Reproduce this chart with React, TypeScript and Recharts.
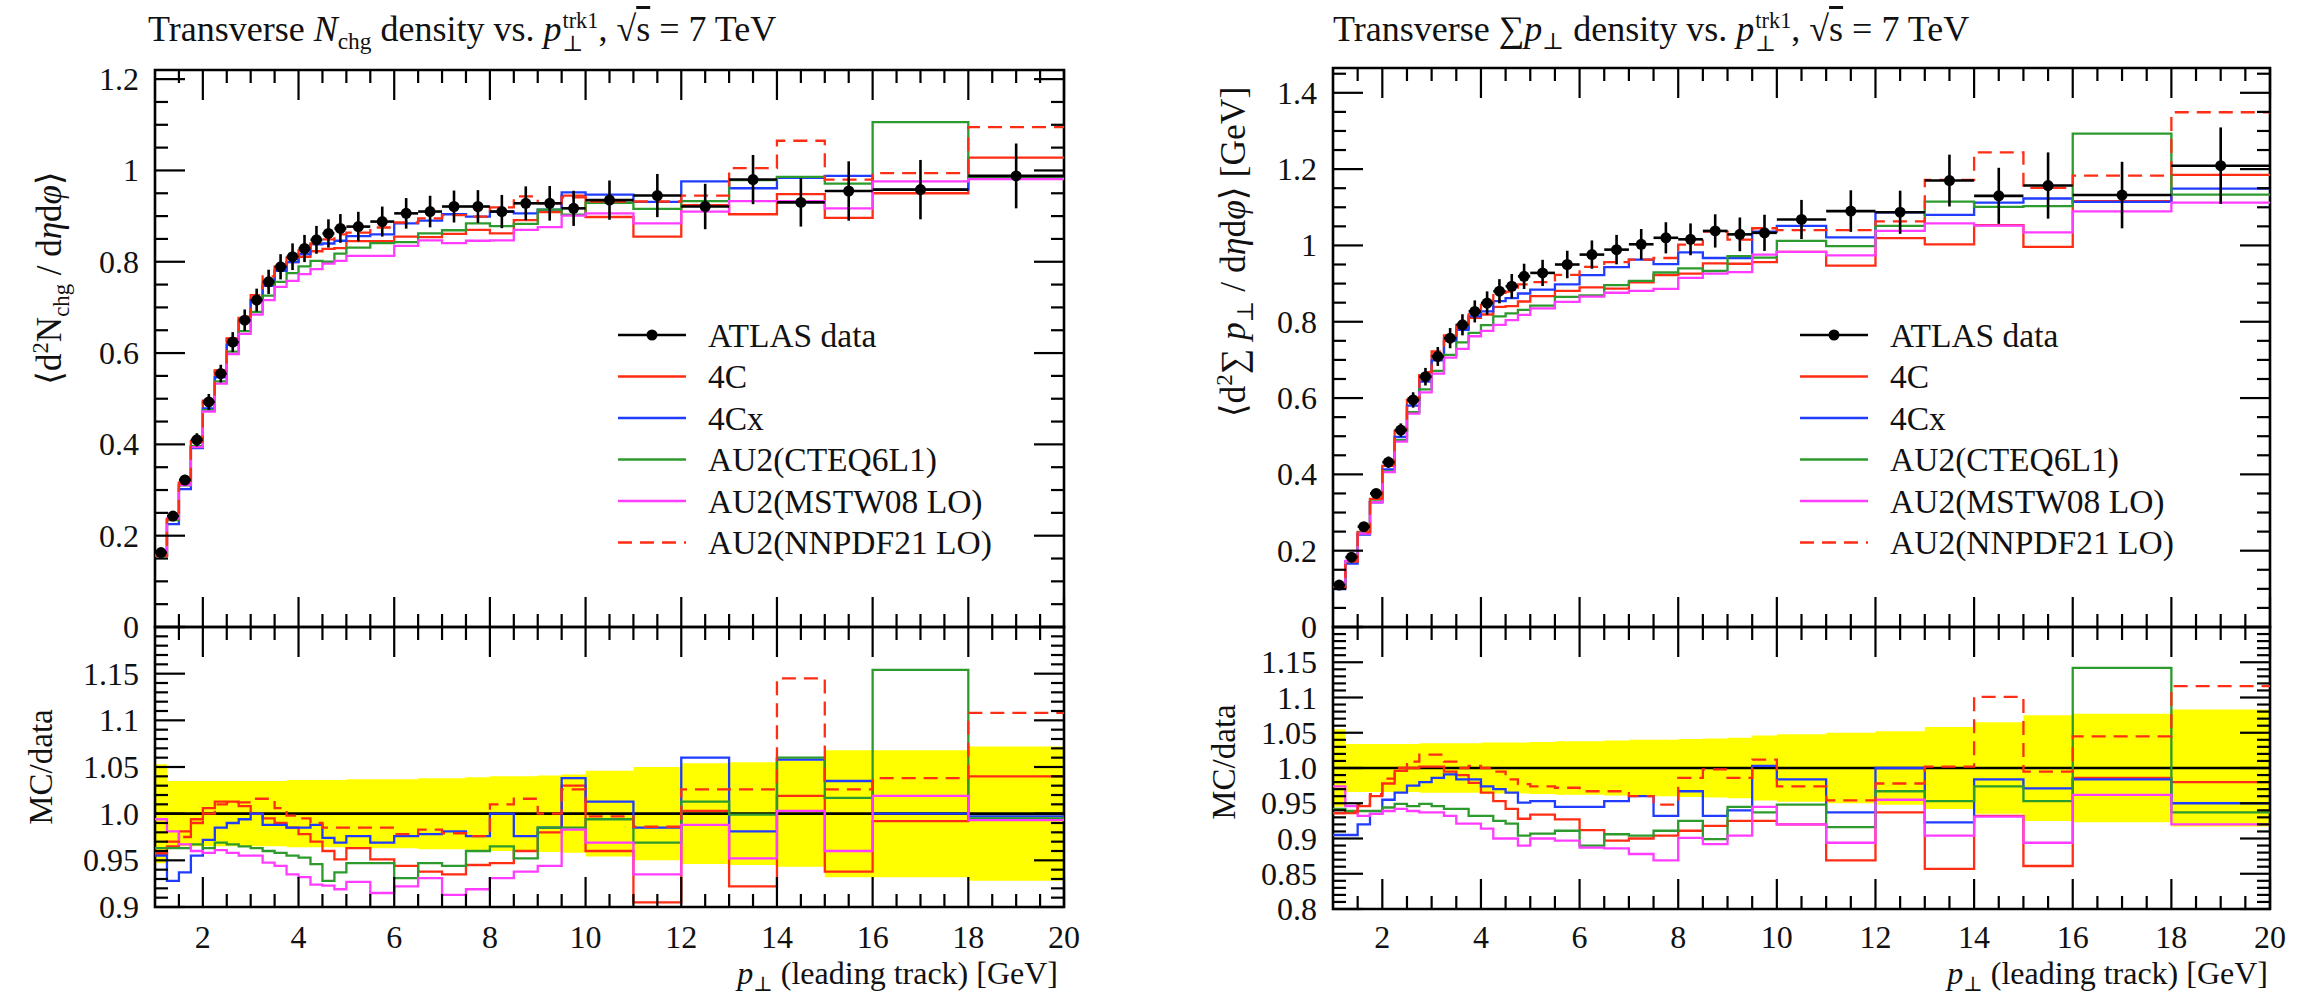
import React from 'react';
import { ComposedChart, Line, Scatter, ErrorBar, Area, XAxis, YAxis, ReferenceLine, ReferenceArea } from 'recharts';

const FONT = "'Liberation Serif', 'DejaVu Serif', serif";

// ---------- shared binning / ticks ----------
const binEdges = [1, 1.25, 1.5, 1.75, 2, 2.25, 2.5, 2.75, 3, 3.25, 3.5, 3.75, 4, 4.25, 4.5, 4.75, 5, 5.5, 6, 6.5, 7, 7.5, 8, 8.5, 9, 9.5, 10, 11, 12, 13, 14, 15, 16, 18, 20];
const xMajorTicks = [2, 4, 6, 8, 10, 12, 14, 16, 18, 20];
const xTickLabels = ['2', '4', '6', '8', '10', '12', '14', '16', '18', '20'];

const mcNames = ['4C', '4Cx', 'AU2(CTEQ6L1)', 'AU2(MSTW08 LO)', 'AU2(NNPDF21 LO)'];
const mcColors = ['#ff2d14', '#1f3cff', '#2c9a2c', '#ff3cff', '#ff2d14'];
const mcDash: (string | undefined)[] = [undefined, undefined, undefined, undefined, '14 8'];

// ---------- left: transverse N_chg density ----------
const nchgData = [0.163, 0.243, 0.322, 0.41, 0.493, 0.555, 0.624, 0.672, 0.716, 0.756, 0.789, 0.811, 0.829, 0.848, 0.862, 0.873, 0.877, 0.888, 0.906, 0.91, 0.921, 0.921, 0.91, 0.928, 0.928, 0.917, 0.935, 0.945, 0.921, 0.98, 0.93, 0.955, 0.958, 0.988];
const nchgErr = [0.0086, 0.0085, 0.0113, 0.0144, 0.0173, 0.0194, 0.0218, 0.0235, 0.0251, 0.0265, 0.0276, 0.0292, 0.0298, 0.0305, 0.031, 0.0314, 0.0324, 0.0329, 0.0335, 0.0346, 0.035, 0.0359, 0.0364, 0.0371, 0.038, 0.0385, 0.043, 0.0473, 0.0497, 0.0539, 0.053, 0.065, 0.065, 0.071];
const nchgMain4C = [0.156, 0.2345, 0.316, 0.4075, 0.496, 0.562, 0.632, 0.677, 0.716, 0.752, 0.781, 0.799, 0.811, 0.823, 0.828, 0.83, 0.845, 0.845, 0.855, 0.854, 0.861, 0.87, 0.862, 0.891, 0.909, 0.945, 0.898, 0.855, 0.924, 0.904, 0.948, 0.896, 0.95, 1.028];
const nchgMain4Cx = [0.156, 0.2255, 0.302, 0.392, 0.479, 0.547, 0.618, 0.668, 0.716, 0.747, 0.78, 0.799, 0.817, 0.838, 0.84, 0.846, 0.856, 0.86, 0.884, 0.89, 0.904, 0.899, 0.91, 0.906, 0.914, 0.952, 0.947, 0.931, 0.976, 0.961, 0.984, 0.988, 0.958, 0.985];
const nchgMainCTEQ = [0.157, 0.234, 0.31, 0.396, 0.475, 0.538, 0.603, 0.648, 0.69, 0.726, 0.756, 0.775, 0.79, 0.802, 0.8, 0.818, 0.831, 0.841, 0.843, 0.862, 0.869, 0.884, 0.878, 0.883, 0.914, 0.903, 0.929, 0.916, 0.933, 0.979, 0.986, 0.971, 1.106, 0.983];
const nchgMainMSTW = [0.162, 0.238, 0.311, 0.394, 0.472, 0.533, 0.598, 0.642, 0.684, 0.716, 0.745, 0.758, 0.773, 0.784, 0.796, 0.802, 0.813, 0.813, 0.835, 0.847, 0.841, 0.846, 0.847, 0.87, 0.876, 0.901, 0.906, 0.884, 0.91, 0.933, 0.933, 0.917, 0.976, 0.981];
const nchgMainNNPDF = [0.156, 0.236, 0.314, 0.406, 0.493, 0.561, 0.631, 0.68, 0.727, 0.768, 0.794, 0.809, 0.825, 0.84, 0.849, 0.86, 0.864, 0.875, 0.886, 0.895, 0.902, 0.899, 0.919, 0.943, 0.928, 0.941, 0.932, 0.932, 0.945, 1.005, 1.065, 0.98, 0.994, 1.095];
const nchgRatio4C = [0.956, 0.965, 0.981, 0.994, 1.006, 1.013, 1.013, 1.008, 1.0, 0.995, 0.99, 0.985, 0.978, 0.97, 0.96, 0.951, 0.963, 0.951, 0.944, 0.938, 0.935, 0.945, 0.947, 0.96, 0.98, 1.03, 0.96, 0.905, 1.003, 0.922, 1.019, 0.938, 0.992, 1.04];
const nchgRatio4Cx = [0.955, 0.928, 0.937, 0.955, 0.972, 0.985, 0.99, 0.994, 1.0, 0.988, 0.988, 0.985, 0.985, 0.988, 0.974, 0.969, 0.976, 0.969, 0.976, 0.978, 0.981, 0.976, 1.0, 0.976, 0.985, 1.038, 1.013, 0.985, 1.06, 0.981, 1.058, 1.035, 1.0, 0.997];
const nchgRatioCTEQ = [0.963, 0.963, 0.963, 0.967, 0.963, 0.969, 0.967, 0.965, 0.963, 0.96, 0.958, 0.955, 0.953, 0.946, 0.928, 0.937, 0.947, 0.947, 0.931, 0.947, 0.944, 0.96, 0.965, 0.952, 0.985, 0.985, 0.994, 0.969, 1.013, 0.999, 1.06, 1.017, 1.154, 0.995];
const nchgRatioMSTW = [0.994, 0.981, 0.967, 0.96, 0.958, 0.961, 0.958, 0.955, 0.955, 0.9475, 0.944, 0.935, 0.932, 0.924, 0.923, 0.919, 0.927, 0.915, 0.922, 0.931, 0.913, 0.919, 0.931, 0.938, 0.944, 0.983, 0.969, 0.935, 0.988, 0.952, 1.003, 0.96, 1.019, 0.993];
const nchgRatioNNPDF = [0.958, 0.97, 0.975, 0.99, 1.0, 1.01, 1.012, 1.012, 1.016, 1.016, 1.006, 0.998, 0.995, 0.99, 0.985, 0.985, 0.985, 0.985, 0.978, 0.983, 0.979, 0.976, 1.01, 1.016, 1.0, 1.026, 0.997, 0.986, 1.026, 1.026, 1.145, 1.026, 1.038, 1.108];
const nchgBand = [0.053, 0.035, 0.035, 0.035, 0.035, 0.035, 0.035, 0.035, 0.035, 0.035, 0.035, 0.036, 0.036, 0.036, 0.036, 0.036, 0.037, 0.037, 0.037, 0.038, 0.038, 0.039, 0.04, 0.04, 0.041, 0.042, 0.046, 0.05, 0.054, 0.055, 0.057, 0.068, 0.068, 0.072];
const nchgYMajor = [0, 0.2, 0.4, 0.6, 0.8, 1, 1.2];
const nchgYLabels = ['0', '0.2', '0.4', '0.6', '0.8', '1', '1.2'];
const nchgRatioMajor = [0.9, 0.95, 1.0, 1.05, 1.1, 1.15, 1.2];
const nchgRatioLabels = ['0.9', '0.95', '1.0', '1.05', '1.1', '1.15', ''];

// ---------- right: transverse sum pT density ----------
const sumptData = [0.11, 0.183, 0.263, 0.35, 0.432, 0.516, 0.595, 0.656, 0.709, 0.757, 0.792, 0.827, 0.849, 0.88, 0.893, 0.919, 0.928, 0.95, 0.976, 0.989, 1.003, 1.02, 1.016, 1.038, 1.029, 1.033, 1.068, 1.09, 1.087, 1.17, 1.13, 1.157, 1.132, 1.209];
const sumptErr = [0.006, 0.0062, 0.0089, 0.0119, 0.0147, 0.0175, 0.0202, 0.023, 0.0248, 0.0265, 0.0277, 0.0289, 0.0306, 0.0317, 0.0321, 0.0331, 0.0343, 0.0361, 0.0371, 0.0386, 0.0401, 0.0408, 0.0417, 0.0436, 0.0442, 0.0475, 0.0513, 0.0545, 0.0565, 0.0679, 0.0735, 0.0868, 0.0872, 0.1003];
const sumptMain4C = [0.103, 0.171, 0.249, 0.336, 0.4225, 0.514, 0.595, 0.657, 0.71, 0.753, 0.784, 0.81, 0.819, 0.839, 0.841, 0.853, 0.867, 0.881, 0.89, 0.887, 0.903, 0.922, 0.926, 0.953, 0.952, 0.956, 0.983, 0.947, 1.019, 1.003, 1.053, 0.996, 1.116, 1.185];
const sumptMain4Cx = [0.0996, 0.166, 0.242, 0.327, 0.413, 0.498, 0.58, 0.643, 0.699, 0.75, 0.779, 0.814, 0.827, 0.854, 0.862, 0.874, 0.884, 0.898, 0.922, 0.943, 0.963, 0.951, 0.982, 0.967, 0.967, 1.036, 1.051, 1.021, 1.087, 1.08, 1.112, 1.123, 1.114, 1.149];
const sumptMainCTEQ = [0.104, 0.172, 0.247, 0.329, 0.408, 0.49, 0.563, 0.623, 0.671, 0.713, 0.746, 0.771, 0.791, 0.814, 0.822, 0.831, 0.842, 0.865, 0.869, 0.896, 0.907, 0.929, 0.94, 0.933, 0.972, 0.968, 1.012, 0.998, 1.051, 1.115, 1.101, 1.103, 1.293, 1.133];
const sumptMainMSTW = [0.107, 0.173, 0.245, 0.327, 0.406, 0.486, 0.559, 0.615, 0.664, 0.706, 0.729, 0.762, 0.776, 0.792, 0.804, 0.818, 0.835, 0.852, 0.866, 0.876, 0.881, 0.886, 0.915, 0.926, 0.93, 0.976, 0.983, 0.974, 1.038, 1.058, 1.052, 1.034, 1.089, 1.112];
const sumptMainNNPDF = [0.103, 0.172, 0.249, 0.337, 0.4255, 0.516, 0.6, 0.668, 0.722, 0.764, 0.792, 0.829, 0.849, 0.876, 0.879, 0.898, 0.904, 0.923, 0.944, 0.956, 0.963, 0.967, 1.002, 1.036, 1.015, 1.045, 1.04, 1.04, 1.063, 1.172, 1.244, 1.151, 1.183, 1.349];
const sumptRatio4C = [0.936, 0.936, 0.946, 0.96, 0.978, 0.996, 1.0, 1.002, 1.002, 0.995, 0.99, 0.979, 0.965, 0.953, 0.942, 0.928, 0.934, 0.927, 0.912, 0.897, 0.9, 0.904, 0.911, 0.918, 0.925, 0.925, 0.92, 0.869, 0.937, 0.857, 0.932, 0.861, 0.986, 0.98];
const sumptRatio4Cx = [0.905, 0.905, 0.92, 0.935, 0.955, 0.965, 0.975, 0.98, 0.986, 0.991, 0.984, 0.984, 0.974, 0.97, 0.965, 0.951, 0.953, 0.945, 0.945, 0.953, 0.96, 0.932, 0.967, 0.932, 0.94, 1.003, 0.984, 0.937, 1.0, 0.923, 0.984, 0.971, 0.984, 0.95];
const sumptRatioCTEQ = [0.942, 0.939, 0.939, 0.939, 0.944, 0.949, 0.946, 0.949, 0.946, 0.942, 0.942, 0.932, 0.932, 0.925, 0.921, 0.904, 0.907, 0.911, 0.89, 0.906, 0.904, 0.911, 0.925, 0.899, 0.945, 0.937, 0.948, 0.916, 0.967, 0.953, 0.974, 0.953, 1.142, 0.937];
const sumptRatioMSTW = [0.974, 0.946, 0.932, 0.935, 0.939, 0.942, 0.939, 0.937, 0.937, 0.932, 0.921, 0.921, 0.914, 0.9, 0.9, 0.89, 0.9, 0.897, 0.887, 0.886, 0.878, 0.869, 0.901, 0.892, 0.904, 0.945, 0.92, 0.894, 0.955, 0.904, 0.931, 0.894, 0.962, 0.92];
const sumptRatioNNPDF = [0.936, 0.938, 0.948, 0.963, 0.985, 1.0, 1.009, 1.019, 1.019, 1.009, 1.0, 1.003, 1.0, 0.995, 0.984, 0.977, 0.974, 0.972, 0.967, 0.967, 0.96, 0.948, 0.986, 0.998, 0.986, 1.012, 0.974, 0.954, 0.978, 1.002, 1.101, 0.995, 1.045, 1.116];
const sumptBand = [0.055, 0.034, 0.034, 0.034, 0.034, 0.034, 0.034, 0.035, 0.035, 0.035, 0.035, 0.035, 0.036, 0.036, 0.036, 0.036, 0.037, 0.038, 0.038, 0.039, 0.04, 0.04, 0.041, 0.042, 0.043, 0.046, 0.048, 0.05, 0.052, 0.058, 0.065, 0.075, 0.077, 0.083];
const sumptYMajor = [0, 0.2, 0.4, 0.6, 0.8, 1, 1.2, 1.4];
const sumptYLabels = ['0', '0.2', '0.4', '0.6', '0.8', '1', '1.2', '1.4'];
const sumptRatioMajor = [0.8, 0.85, 0.9, 0.95, 1.0, 1.05, 1.1, 1.15, 1.2];
const sumptRatioLabels = ['0.8', '0.85', '0.9', '0.95', '1.0', '1.05', '1.1', '1.15', ''];

// ---------- helpers ----------
function steps(a: number, b: number, s: number) {
  const out: number[] = [];
  const n = Math.round((b - a) / s);
  for (let i = 0; i <= n; i++) out.push(+(a + i * s).toFixed(4));
  return out;
}
const xAllTicks = steps(1.5, 20, 0.5);
function near(v: number, list: number[]) {
  return list.findIndex((m) => Math.abs(m - v) < 1e-6);
}
function stepRows(series: number[][], band?: number[]) {
  const n = binEdges.length - 1;
  return binEdges.map((x, i) => {
    const j = Math.min(i, n - 1);
    const row: any = { x };
    series.forEach((s, k) => { row['s' + k] = s[j]; });
    if (band) row.band = [1 - band[j], 1 + band[j]];
    return row;
  });
}
function dataPoints(vals: number[], errs: number[]) {
  return vals.map((y, i) => ({
    x: (binEdges[i] + binEdges[i + 1]) / 2,
    y,
    ey: errs[i],
    ex: (binEdges[i + 1] - binEdges[i]) / 2,
  }));
}
const dotShape = (p: any) => <circle cx={p.cx} cy={p.cy} r={5.5} fill="#000" />;

type Geo = { ox: number; w: number; x0: number; x1: number; top: number; split: number; bottom: number };

const TICK_W = 2.2;
const MAJ = 30;
const MIN = 13;
const LABEL_FS = 32;

function MainChart({ g, domain, yMajor, yLabels, yTicks, rows, pts }: any) {
  const geo: Geo = g;
  const H = geo.split + 30;
  const margin = { top: geo.top, left: geo.x0 - geo.ox - 1, right: geo.ox + geo.w - geo.x1, bottom: H - geo.split - 1 };
  const L = geo.x0 - geo.ox, R = geo.x1 - geo.ox, T = geo.top, B = geo.split;
  const xTick = (p: any) => {
    const x = p.x;
    const len = near(p.payload.value, xMajorTicks) >= 0 ? MAJ : MIN;
    return (
      <g>
        <line x1={x} x2={x} y1={B} y2={B - len} stroke="#000" strokeWidth={TICK_W} />
        <line x1={x} x2={x} y1={T} y2={T + len} stroke="#000" strokeWidth={TICK_W} />
      </g>
    );
  };
  const yTick = (p: any) => {
    const y = p.y;
    const idx = near(p.payload.value, yMajor);
    const len = idx >= 0 ? MAJ : MIN;
    return (
      <g>
        <line x1={L} x2={L + len} y1={y} y2={y} stroke="#000" strokeWidth={TICK_W} />
        <line x1={R} x2={R - len} y1={y} y2={y} stroke="#000" strokeWidth={TICK_W} />
        {idx >= 0 && yLabels[idx] ? (
          <text x={L - 16} y={y} textAnchor="end" dominantBaseline="central" fontSize={LABEL_FS} fontFamily={FONT} fill="#111">
            {yLabels[idx]}
          </text>
        ) : null}
      </g>
    );
  };
  return (
    <div style={{ position: 'absolute', left: geo.ox, top: 0 }}>
      <ComposedChart width={geo.w} height={H} data={rows} margin={margin}>
        <XAxis dataKey="x" type="number" domain={[1, 20]} allowDataOverflow ticks={xAllTicks} interval={0} height={1} tickSize={0} tickMargin={0} axisLine={false} tickLine={false} tick={xTick} />
        <YAxis type="number" domain={domain} allowDataOverflow ticks={yTicks} interval={0} width={1} tickSize={0} tickMargin={0} axisLine={false} tickLine={false} tick={yTick} />
        {mcNames.map((n, k) => (
          <Line key={n} dataKey={'s' + k} type="stepAfter" stroke={mcColors[k]} strokeWidth={2.3} strokeDasharray={mcDash[k]} dot={false} activeDot={false} isAnimationActive={false} />
        ))}
        <Scatter data={pts} dataKey="y" isAnimationActive={false} shape={dotShape}>
          <ErrorBar dataKey="ey" direction="y" width={0} stroke="#000" strokeWidth={2.6} isAnimationActive={false} />
          <ErrorBar dataKey="ex" direction="x" width={0} stroke="#000" strokeWidth={2.6} isAnimationActive={false} />
        </Scatter>
        <ReferenceArea x1={1} x2={20} y1={domain[0]} y2={domain[1]} fill="none" fillOpacity={0} stroke="#000" strokeWidth={2.6} />
      </ComposedChart>
    </div>
  );
}

function RatioChart({ g, domain, yMajor, yLabels, yTicks, rows }: any) {
  const geo: Geo = g;
  const TOP0 = 600;
  const H = 397;
  const margin = { top: geo.split - TOP0, left: geo.x0 - geo.ox - 1, right: geo.ox + geo.w - geo.x1, bottom: H - (geo.bottom - TOP0) - 1 };
  const L = geo.x0 - geo.ox, R = geo.x1 - geo.ox, T = geo.split - TOP0, B = geo.bottom - TOP0;
  const xTick = (p: any) => {
    const x = p.x;
    const idx = near(p.payload.value, xMajorTicks);
    const len = idx >= 0 ? MAJ : MIN;
    return (
      <g>
        <line x1={x} x2={x} y1={B} y2={B - len} stroke="#000" strokeWidth={TICK_W} />
        <line x1={x} x2={x} y1={T} y2={T + len} stroke="#000" strokeWidth={TICK_W} />
        {idx >= 0 ? (
          <text x={x} y={937 - TOP0} textAnchor="middle" dominantBaseline="central" fontSize={LABEL_FS} fontFamily={FONT} fill="#111">
            {xTickLabels[idx]}
          </text>
        ) : null}
      </g>
    );
  };
  const yTick = (p: any) => {
    const y = p.y;
    const idx = near(p.payload.value, yMajor);
    const len = idx >= 0 ? MAJ : MIN;
    return (
      <g>
        <line x1={L} x2={L + len} y1={y} y2={y} stroke="#000" strokeWidth={TICK_W} />
        <line x1={R} x2={R - len} y1={y} y2={y} stroke="#000" strokeWidth={TICK_W} />
        {idx >= 0 && yLabels[idx] ? (
          <text x={L - 16} y={y} textAnchor="end" dominantBaseline="central" fontSize={LABEL_FS} fontFamily={FONT} fill="#111">
            {yLabels[idx]}
          </text>
        ) : null}
      </g>
    );
  };
  return (
    <div style={{ position: 'absolute', left: geo.ox, top: TOP0 }}>
      <ComposedChart width={geo.w} height={H} data={rows} margin={margin}>
        <XAxis dataKey="x" type="number" domain={[1, 20]} allowDataOverflow ticks={xAllTicks} interval={0} height={1} tickSize={0} tickMargin={0} axisLine={false} tickLine={false} tick={xTick} />
        <YAxis type="number" domain={domain} allowDataOverflow ticks={yTicks} interval={0} width={1} tickSize={0} tickMargin={0} axisLine={false} tickLine={false} tick={yTick} />
        <Area dataKey="band" type="stepAfter" fill="#ffff00" fillOpacity={1} stroke="none" isAnimationActive={false} />
        <ReferenceLine y={1} stroke="#000" strokeWidth={2.6} />
        {mcNames.map((n, k) => (
          <Line key={n} dataKey={'s' + k} type="stepAfter" stroke={mcColors[k]} strokeWidth={2.3} strokeDasharray={mcDash[k]} dot={false} activeDot={false} isAnimationActive={false} />
        ))}
        <ReferenceArea x1={1} x2={20} y1={domain[0]} y2={domain[1]} fill="none" fillOpacity={0} stroke="#000" strokeWidth={2.6} />
      </ComposedChart>
    </div>
  );
}

function RotLabel({ cx, cy, fs, children }: any) {
  return (
    <div style={{ position: 'absolute', left: cx - 300, top: cy - 24, width: 600, height: 48, lineHeight: '48px', textAlign: 'center', transform: 'rotate(-90deg)', fontSize: fs, whiteSpace: 'nowrap', color: '#111' }}>
      {children}
    </div>
  );
}

const Stack = ({ sup, sub }: any) => (
  <span style={{ display: 'inline-flex', flexDirection: 'column', verticalAlign: 'middle', fontSize: '0.62em', lineHeight: 1, marginLeft: 1 }}>
    <span>{sup}</span>
    <span>{sub}</span>
  </span>
);

function Legend({ lx0, lx1, tx, y0, dy }: any) {
  const items = [{ name: 'ATLAS data', color: '#000', dash: undefined as any, dot: true }].concat(
    mcNames.map((n, k) => ({ name: n, color: mcColors[k], dash: mcDash[k], dot: false }))
  );
  return (
    <g>
      {items.map((it, i) => {
        const y = y0 + i * dy;
        return (
          <g key={it.name}>
            <line x1={lx0} x2={lx1} y1={y} y2={y} stroke={it.color} strokeWidth={it.dot ? 2.6 : 2.3} strokeDasharray={it.dash} />
            {it.dot ? <circle cx={(lx0 + lx1) / 2} cy={y} r={5.5} fill="#000" /> : null}
            <text x={tx} y={y} dominantBaseline="central" fontSize={33.5} fontFamily={FONT} fill="#111">{it.name}</text>
          </g>
        );
      })}
    </g>
  );
}

const leftGeo: Geo = { ox: 0, w: 1100, x0: 155, x1: 1064, top: 70, split: 627, bottom: 907 };
const rightGeo: Geo = { ox: 1180, w: 1133, x0: 1333, x1: 2270, top: 68, split: 627, bottom: 909 };

export default function App() {
  const nchgRows = stepRows([nchgMain4C, nchgMain4Cx, nchgMainCTEQ, nchgMainMSTW, nchgMainNNPDF]);
  const nchgRatioRows = stepRows([nchgRatio4C, nchgRatio4Cx, nchgRatioCTEQ, nchgRatioMSTW, nchgRatioNNPDF], nchgBand);
  const sumptRows = stepRows([sumptMain4C, sumptMain4Cx, sumptMainCTEQ, sumptMainMSTW, sumptMainNNPDF]);
  const sumptRatioRows = stepRows([sumptRatio4C, sumptRatio4Cx, sumptRatioCTEQ, sumptRatioMSTW, sumptRatioNNPDF], sumptBand);

  const sub = { fontSize: '0.65em' };
  return (
    <div style={{ position: 'absolute', left: 0, top: 0, width: 2313, height: 997, background: '#fff', fontFamily: FONT, overflow: 'hidden', color: '#111' }}>
      {/* titles */}
      <div style={{ position: 'absolute', left: 148, top: 6, fontSize: 36, lineHeight: '46px', whiteSpace: 'nowrap' }}>
        Transverse <i>N</i><sub style={sub}>chg</sub> density vs. <i>p</i><Stack sup="trk1" sub="⊥" />, √<span style={{ textDecoration: 'overline' }}>s</span> = 7 TeV
      </div>
      <div style={{ position: 'absolute', left: 1333, top: 6, fontSize: 36, lineHeight: '46px', whiteSpace: 'nowrap' }}>
        Transverse ∑<i>p</i><sub style={sub}>⊥</sub> density vs. <i>p</i><Stack sup="trk1" sub="⊥" />, √<span style={{ textDecoration: 'overline' }}>s</span> = 7 TeV
      </div>

      {/* y axis titles */}
      <RotLabel cx={41} cy={278} fs={35}>
        ⟨d<sup style={sub}>2</sup>N<sub style={sub}>chg</sub> / d<i>η</i>d<i>φ</i>⟩
      </RotLabel>
      <RotLabel cx={41} cy={767} fs={33}>MC/data</RotLabel>
      <RotLabel cx={1224} cy={252} fs={35.5}>
        ⟨d<sup style={sub}>2</sup>∑ <i>p</i><sub style={sub}>⊥</sub> / d<i>η</i>d<i>φ</i>⟩ [GeV]
      </RotLabel>
      <RotLabel cx={1224} cy={762} fs={33}>MC/data</RotLabel>

      {/* x axis titles */}
      <div style={{ position: 'absolute', left: 1058 - 600, top: 955, width: 600, height: 40, textAlign: 'right', fontSize: 32, lineHeight: '36px', whiteSpace: 'nowrap' }}>
        <i>p</i><sub style={sub}>⊥</sub> (leading track) [GeV]
      </div>
      <div style={{ position: 'absolute', left: 2268 - 600, top: 955, width: 600, height: 40, textAlign: 'right', fontSize: 32, lineHeight: '36px', whiteSpace: 'nowrap' }}>
        <i>p</i><sub style={sub}>⊥</sub> (leading track) [GeV]
      </div>

      <RatioChart g={leftGeo} domain={[0.9, 1.2]} yMajor={nchgRatioMajor} yLabels={nchgRatioLabels} yTicks={steps(0.9, 1.2, 0.01)} rows={nchgRatioRows} />
      <MainChart g={leftGeo} domain={[0, 1.22]} yMajor={nchgYMajor} yLabels={nchgYLabels} yTicks={steps(0, 1.2, 0.05)} rows={nchgRows} pts={dataPoints(nchgData, nchgErr)} />
      <RatioChart g={rightGeo} domain={[0.8, 1.2]} yMajor={sumptRatioMajor} yLabels={sumptRatioLabels} yTicks={steps(0.8, 1.2, 0.01)} rows={sumptRatioRows} />
      <MainChart g={rightGeo} domain={[0, 1.465]} yMajor={sumptYMajor} yLabels={sumptYLabels} yTicks={steps(0, 1.45, 0.05)} rows={sumptRows} pts={dataPoints(sumptData, sumptErr)} />

      <svg width={2313} height={997} style={{ position: 'absolute', left: 0, top: 0, pointerEvents: 'none' }}>
        <Legend lx0={618} lx1={686} tx={708} y0={335} dy={41.5} />
        <Legend lx0={1800} lx1={1868} tx={1890} y0={335} dy={41.5} />
      </svg>
    </div>
  );
}
